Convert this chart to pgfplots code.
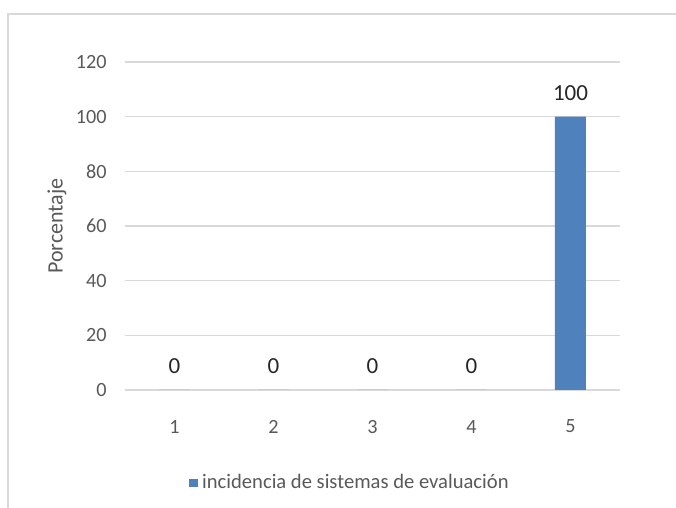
\documentclass[border=0pt]{standalone}
\usepackage{fontspec}
\setmainfont{Carlito}
\usepackage{pgfplots}
\pgfplotsset{compat=1.18}
\pgfplotsset{/pgf/number format/assume math mode=true}
\definecolor{barblue}{RGB}{79,129,189}
\definecolor{gridgray}{RGB}{217,217,217}
\definecolor{txtgray}{RGB}{89,89,89}
\begin{document}
\begin{tikzpicture}
\useasboundingbox (0,0) rectangle (338pt,254pt);
% chart frame (only top and left edges visible)
\draw[gridgray, line width=0.8pt] (338pt,247pt) -- (4pt,247pt) -- (4pt,0pt);
\begin{axis}[
    at={(62.5pt,59pt)}, anchor=south west,
    scale only axis, width=247.5pt, height=164pt,
    ybar, bar width=15.5pt,
    xmin=0.5, xmax=5.5, ymin=0, ymax=120,
    xtick={1,2,3,4,5}, ytick={0,20,...,120},
    axis x line*=bottom, axis y line*=left,
    x axis line style={gridgray, line width=0.6pt, -},
    y axis line style={draw=none},
    tick style={draw=none},
    ymajorgrids, grid style={gridgray, line width=0.6pt},
    ticklabel style={font=\fontsize{10.1}{12}\selectfont, text=txtgray},
    xticklabel style={anchor=center, yshift=-14pt},
    yticklabel style={anchor=east, inner sep=0pt, xshift=-9pt},
    ylabel={Porcentaje},
    ylabel style={at={(axis description cs:0,0.5)}, anchor=center,
        yshift=34pt, text=txtgray, font=\fontsize{11}{13}\selectfont},
    nodes near coords,
    nodes near coords style={font=\fontsize{11.5}{13}\selectfont,
        text=black!85, anchor=center, yshift=12pt},
    legend style={at={(axis description cs:0.4566,-0.2835)}, anchor=center,
        draw=none, fill=none, font=\fontsize{10.3}{12}\selectfont, text=txtgray},
    legend image code/.code={\fill[barblue] (0pt,-2.2pt) rectangle (4.4pt,2.2pt);},
]
\addplot[fill=barblue, draw=none] coordinates {(1,0) (2,0) (3,0) (4,0) (5,100)};
\addlegendentry{incidencia de sistemas de evaluación}
\end{axis}
\end{tikzpicture}
\end{document}
